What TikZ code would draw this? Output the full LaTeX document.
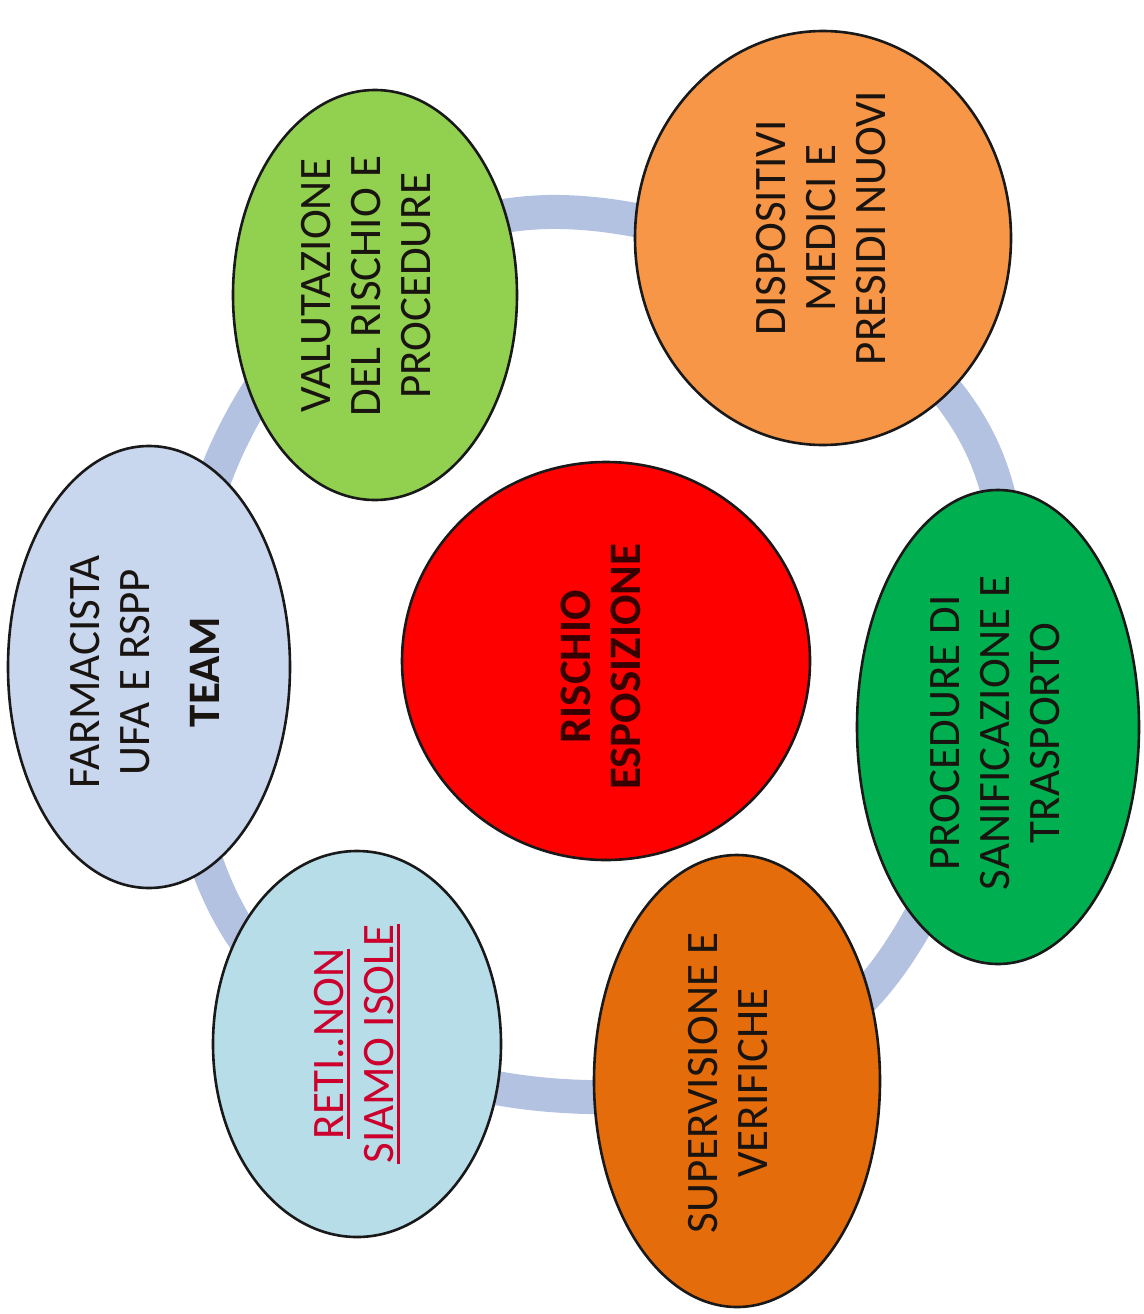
\documentclass[tikz,border=0pt]{standalone}
\usepackage{fontspec}
\setmainfont{Carlito}
\newsavebox\ulbox
\newcommand\myul[1]{\sbox\ulbox{#1}\rlap{\rule[-6pt]{\wd\ulbox}{2.6pt}}\usebox\ulbox}
\usetikzlibrary{shapes.geometric}
\definecolor{ringc}{RGB}{178,194,224}
\definecolor{farmc}{RGB}{200,214,238}
\definecolor{retic}{RGB}{183,221,232}
\definecolor{valc}{RGB}{146,208,80}
\definecolor{dispc}{RGB}{247,150,70}
\definecolor{procc}{RGB}{0,176,80}
\definecolor{supc}{RGB}{228,108,10}
\definecolor{edgec}{RGB}{25,25,25}
\definecolor{retitext}{RGB}{205,0,45}
\definecolor{rischtext}{RGB}{55,0,0}
\definecolor{bodytext}{RGB}{25,20,15}
\tikzset{
  bubble/.style={ellipse, draw=edgec, line width=2.6pt, inner sep=0pt},
  label/.style={rotate=90, align=center, text=bodytext, inner sep=0pt,
    font=\fontsize{45}{50}\selectfont},
  ring/.style={draw=ringc, line width=34pt}
}
\begin{document}
\begin{tikzpicture}[x=1pt,y=-1pt]
\useasboundingbox (0,0) rectangle (1143,1314);
% background ring
\draw[ring] plot[smooth cycle, tension=0.7] coordinates {(560,212) (983,450) (897,955) (550,1095) (222,900) (232,438)};
% bubbles
\node[bubble, fill=farmc, minimum width=282pt, minimum height=442pt] (farm) at (149,667) {};
\node[bubble, fill=retic, minimum width=288pt, minimum height=386pt] (reti) at (357,1044) {};
\node[bubble, fill=red, minimum width=408pt, minimum height=398pt] (risc) at (606,661) {};
\node[bubble, fill=valc, minimum width=284pt, minimum height=410pt] (valu) at (375,295) {};
\node[bubble, fill=dispc, minimum width=376pt, minimum height=414pt] (disp) at (823,238) {};
\node[bubble, fill=procc, minimum width=282pt, minimum height=474pt] (proc) at (998,727) {};
\node[bubble, fill=supc, minimum width=286pt, minimum height=452pt] (supe) at (737,1081) {};
% texts
\node[label] (tfarm) at (145,672) {FARMACISTA\\UFA E RSPP\\[20pt]\textbf{TEAM}};
\node[label, text=retitext] (treti) at (357,1044) {\myul{RETI..NON}\\\myul{SIAMO ISOLE}};
\node[label, text=rischtext] (trisc) at (601,667) {\textbf{RISCHIO}\\\textbf{ESPOSIZIONE}};
\node[label] (tvalu) at (366,286) {VALUTAZIONE\\DEL RISCHIO E\\PROCEDURE};
\node[label] (tdisp) at (821,228) {DISPOSITIVI\\MEDICI E\\PRESIDI NUOVI};
\node[label] (tproc) at (995,733) {PROCEDURE DI\\SANIFICAZIONE E\\TRASPORTO};
\node[label] (tsupe) at (728,1083) {SUPERVISIONE E\\VERIFICHE};
\end{tikzpicture}
\end{document}
